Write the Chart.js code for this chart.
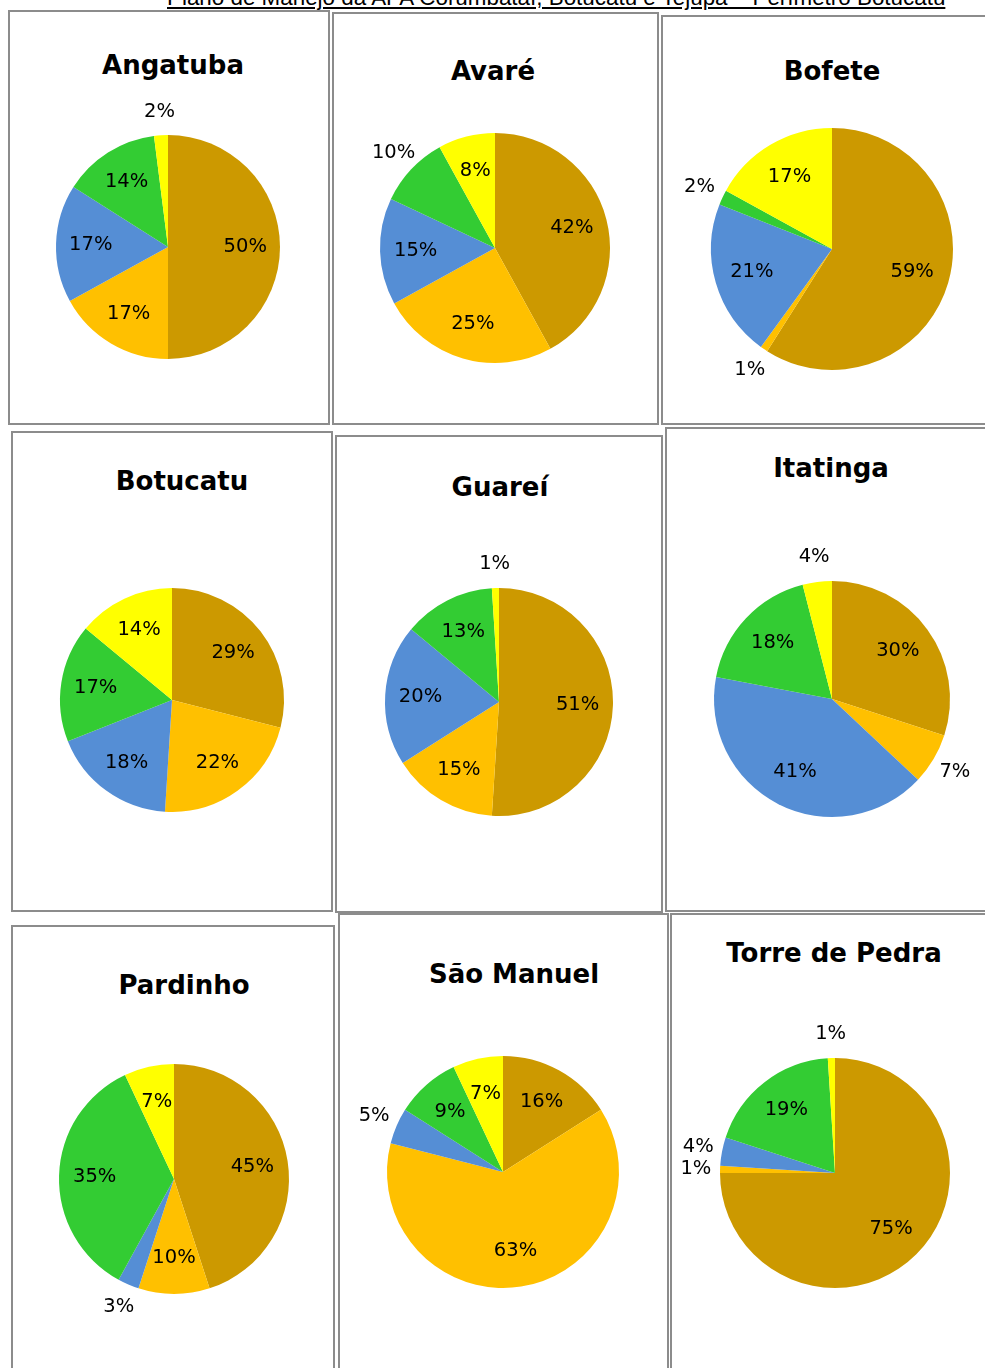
<!DOCTYPE html>
<html lang="pt-BR">
<head>
<meta charset="utf-8">
<title>Uso do solo por município</title>
<script src="https://cdn.jsdelivr.net/npm/chart.js@4.4.1/dist/chart.umd.min.js"></script>
<style>
  body {
    margin: 0;
    width: 985px;
    height: 1368px;
    position: relative;
    overflow: hidden;
    background: #fff;
  }
  .cabecalho {
    position: absolute;
    left: 167px;
    top: -13px;
    font: 22.4px/22px "Liberation Sans", Arial, sans-serif;
    text-decoration: underline;
    white-space: nowrap;
    color: #000;
  }
  .painel {
    position: absolute;
    box-sizing: border-box;
    border: 2px solid #8c8c8c;
    background: #fff;
  }
  .titulo {
    position: absolute;
    font: bold 26px/26px "DejaVu Sans", sans-serif;
    white-space: nowrap;
    transform: translateX(-50%);
    color: #000;
  }
  canvas {
    position: absolute;
  }
</style>
</head>
<body>
<div class="cabecalho">Plano de Manejo da APA Corumbataí, Botucatu e Tejupá – Perímetro Botucatu</div>

<script>
const municipios = ["Angatuba", "Avaré", "Bofete", "Botucatu", "Guareí", "Itatinga", "Pardinho", "São Manuel", "Torre de Pedra"];
const classes = ["Classe 1", "Classe 2", "Classe 3", "Classe 4", "Classe 5"];
const cores = ["#CC9900", "#FFC000", "#558ED5", "#33CC33", "#FFFF00"];

// percentuais por município (mesma ordem das classes)
const angatuba = [50, 17, 17, 14, 2];
const avare = [42, 25, 15, 10, 8];
const bofete = [59, 1, 21, 2, 17];
const botucatu = [29, 22, 18, 17, 14];
const guarei = [51, 15, 20, 13, 1];
const itatinga = [30, 7, 41, 18, 4];
const pardinho = [45, 10, 3, 35, 7];
const saoManuel = [16, 63, 5, 9, 7];
const torreDePedra = [75, 1, 4, 19, 1];

const valores = [angatuba, avare, bofete, botucatu, guarei, itatinga, pardinho, saoManuel, torreDePedra];

// fatias cujo rótulo fica do lado de fora
const rotulosFora = [[4], [3], [1, 3], [], [4], [1, 4], [2], [2], [1, 2, 4]];

// caixas dos quadros: esquerda, topo, direita, base
const paineis = [
  [8, 10, 330, 425], [332, 12, 659, 425], [661, 15, 990, 425],
  [11, 431, 333, 912], [335, 435, 663, 913], [665, 427, 990, 912],
  [11, 925, 335, 1380], [338, 913, 669, 1380], [670, 913, 990, 1380]
];
// centro do título e linha de base
const titulos = [
  [173, 74], [493, 80], [832, 80],
  [182, 490], [500, 496], [831, 477],
  [184, 994], [514, 983], [834, 962]
];
// centro e raio de cada pizza
const pizzas = [
  [168, 247, 112], [495, 248, 115], [832, 249, 121],
  [172, 700, 112], [499, 702, 114], [832, 699, 118],
  [174, 1179, 115], [503, 1172, 116], [835, 1173, 115]
];

const folga = 60;

const rotulos = {
  id: "rotulos",
  afterDatasetsDraw(chart, args, opts) {
    const ctx = chart.ctx;
    const dados = chart.data.datasets[0].data;
    const fora = opts.fora || [];
    ctx.save();
    ctx.font = '19.5px "DejaVu Sans", sans-serif';
    ctx.fillStyle = "#000";
    ctx.textAlign = "center";
    ctx.textBaseline = "middle";
    chart.getDatasetMeta(0).data.forEach(function (arco, i) {
      const p = arco.getProps(["x", "y", "startAngle", "endAngle", "outerRadius"], true);
      const meio = (p.startAngle + p.endAngle) / 2;
      const dist = fora.includes(i) ? p.outerRadius * 1.21 : p.outerRadius * 0.69;
      ctx.fillText(dados[i] + "%", p.x + Math.cos(meio) * dist, p.y + Math.sin(meio) * dist);
    });
    ctx.restore();
  }
};

document.addEventListener("DOMContentLoaded", function () {
  for (let i = 0; i < municipios.length; i++) {
    const caixa = paineis[i];
    const painel = document.createElement("div");
    painel.className = "painel";
    painel.style.left = caixa[0] + "px";
    painel.style.top = caixa[1] + "px";
    painel.style.width = (caixa[2] - caixa[0]) + "px";
    painel.style.height = (caixa[3] - caixa[1]) + "px";
    document.body.appendChild(painel);
  }

  for (let i = 0; i < municipios.length; i++) {
    const titulo = document.createElement("div");
    titulo.className = "titulo";
    titulo.textContent = municipios[i];
    titulo.style.left = titulos[i][0] + "px";
    titulo.style.top = (titulos[i][1] - 22) + "px";
    document.body.appendChild(titulo);

    const [cx, cy, r] = pizzas[i];
    const lado = 2 * r + 2 * folga;
    const canvas = document.createElement("canvas");
    canvas.width = lado;
    canvas.height = lado;
    canvas.style.left = (cx - r - folga) + "px";
    canvas.style.top = (cy - r - folga) + "px";
    canvas.style.width = lado + "px";
    canvas.style.height = lado + "px";
    document.body.appendChild(canvas);

    new Chart(canvas, {
      type: "pie",
      data: {
        labels: classes,
        datasets: [{
          data: valores[i],
          backgroundColor: cores,
          borderWidth: 0
        }]
      },
      options: {
        responsive: false,
        animation: false,
        devicePixelRatio: 1,
        layout: { padding: folga },
        plugins: {
          legend: { display: false },
          tooltip: { enabled: false },
          rotulos: { fora: rotulosFora[i] }
        }
      },
      plugins: [rotulos]
    });
  }
});
</script>
</body>
</html>
